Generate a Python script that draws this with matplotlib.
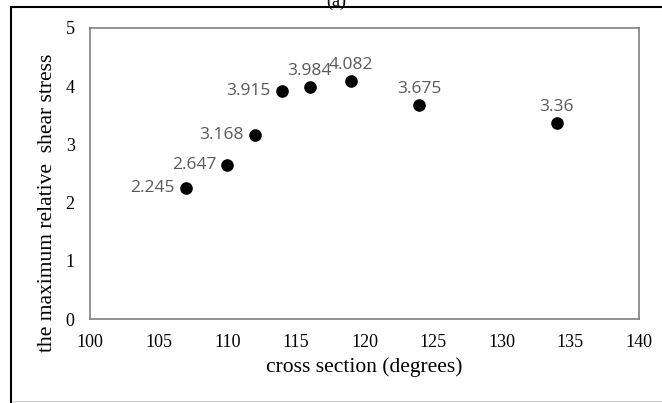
import matplotlib.pyplot as plt
from matplotlib.patches import Rectangle
from matplotlib.lines import Line2D

# data
angles = [107, 110, 112, 114, 116, 119, 124, 134]
shear = [2.245, 2.647, 3.168, 3.915, 3.984, 4.082, 3.675, 3.36]
labels = ['2.245', '2.647', '3.168', '3.915', '3.984', '4.082', '3.675', '3.36']
label_side = ['left', 'left', 'left', 'left', 'above', 'above', 'above', 'above']
x_ticks = [100, 105, 110, 115, 120, 125, 130, 135, 140]
y_ticks = [0, 1, 2, 3, 4, 5]

serif = 'Liberation Serif'
sans = 'Open Sans'
grey = '#595959'

fig = plt.figure(figsize=(6.62, 4.03), dpi=100)
W, H = 662, 403
ax = fig.add_axes([90 / W, 1 - 319 / H, (639 - 90) / W, (319 - 28) / H])

ax.scatter(angles, shear, s=65, color='black', zorder=3)
for x, y, t, side in zip(angles, shear, labels, label_side):
    if side == 'left':
        ax.annotate(t, (x, y), xytext=(-8, 0), textcoords='offset points',
                    ha='right', va='center', fontsize=12.5, color=grey, family=sans)
    else:
        ax.annotate(t, (x, y), xytext=(0, 6), textcoords='offset points',
                    ha='center', va='bottom', fontsize=12.5, color=grey, family=sans)

ax.set_xlim(100, 140)
ax.set_ylim(0, 5)
ax.set_xticks(x_ticks)
ax.set_yticks(y_ticks)
ax.tick_params(length=0, labelsize=13)
ax.tick_params(axis='x', pad=11)
ax.tick_params(axis='y', pad=11)
for lab in ax.get_xticklabels() + ax.get_yticklabels():
    lab.set_family(serif)
for s in ax.spines.values():
    s.set_color('#808080')
    s.set_linewidth(1.2)

ax.set_xlabel('cross section (degrees)', family=serif, fontsize=15.5, labelpad=4)
ax.set_ylabel('the maximum relative  shear stress', family=serif, fontsize=15.5)
# the y title sits lower than the axes centre in the reference
ax.yaxis.set_label_coords(-0.06, 0.40)

# outer frame of the figure panel
fig.patches.append(Rectangle((11 / W, -0.05), 1.0, 1 - 7 / H + 0.05,
                             transform=fig.transFigure, fill=False,
                             edgecolor='black', linewidth=1.5))
fig.lines.append(Line2D([12 / W, 1], [2 / H, 2 / H], transform=fig.transFigure,
                        color='#d0d0d0', linewidth=0.8))
fig.text(336 / W, 1 - 1 / H, '(a)', family=serif, fontsize=13, ha='center', va='center')

fig.savefig('out.png', dpi=100)
